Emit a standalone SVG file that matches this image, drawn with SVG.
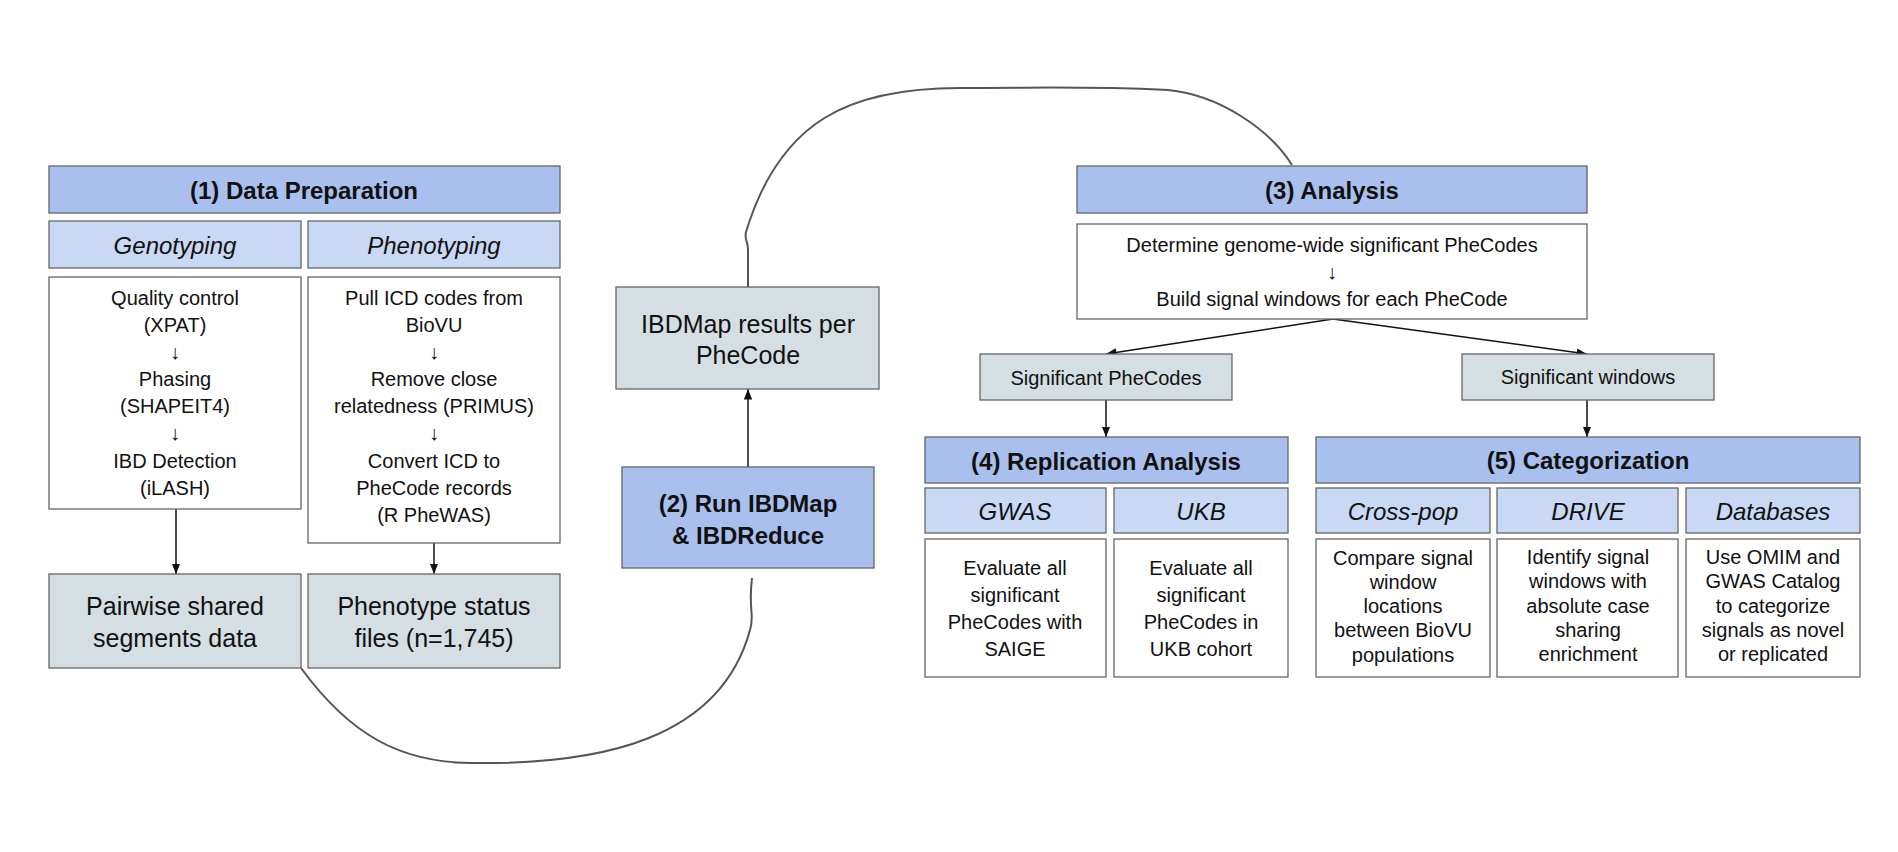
<svg xmlns="http://www.w3.org/2000/svg" width="1898" height="852" viewBox="0 0 1898 852">
<defs>
<marker id="a" viewBox="0 0 10 10" refX="10" refY="5" markerWidth="7" markerHeight="7" orient="auto"><path d="M0,1 L10,5 L0,9 z" fill="#111"/></marker>
<style>
rect{stroke:#666;stroke-width:1.3}
.h{fill:#a9c0ef}.s{fill:#c9d8f5}.w{fill:#fff}.g{fill:#d5dee2}
text{font-family:"Liberation Sans",Arial,sans-serif;fill:#111;text-anchor:middle;dominant-baseline:central}
.ht{font-size:24px;font-weight:bold}
.st{font-size:24px;font-style:italic}
.bt{font-size:20px}
.gt{font-size:25px}
.c{fill:none;stroke:#555;stroke-width:2}
.ar{stroke:#111;stroke-width:1.5;fill:none;marker-end:url(#a)}
</style>
</defs>
<g id="connectors">
<path class="c" d="M301,668 C350,735 400,762 470,763 C600,765 720,740 750,630 C755,615 748,610 752,578"/>
<path class="c" d="M748,287 L748,250 C748,240 744,240 746,232 C780,120 850,88 960,88 C1050,88 1080,86 1168,90 C1220,95 1270,130 1292,165"/>
<path class="ar" d="M176,509 L176,574"/>
<path class="ar" d="M434,543 L434,574"/>
<path class="ar" d="M748,467 L748,389"/>
<path class="ar" d="M1333,319 L1106,354"/>
<path class="ar" d="M1333,319 L1587,354"/>
<path class="ar" d="M1106,400 L1106,437"/>
<path class="ar" d="M1587,400 L1587,437"/>
</g>
<g id="n1"><rect class="h" x="49" y="166" width="511" height="47"/><text class="ht" x="304" y="190">(1) Data Preparation</text></g>
<g id="geno"><rect class="s" x="49" y="221" width="252" height="47"/><text class="st" x="175" y="245">Genotyping</text></g>
<g id="pheno"><rect class="s" x="308" y="221" width="252" height="47"/><text class="st" x="434" y="245">Phenotyping</text></g>
<g id="genobody"><rect class="w" x="49" y="277" width="252" height="232"/>
<text class="bt" x="175" y="298">Quality control</text><text class="bt" x="175" y="325">(XPAT)</text><text class="bt" x="175" y="352">↓</text><text class="bt" x="175" y="379">Phasing</text><text class="bt" x="175" y="406">(SHAPEIT4)</text><text class="bt" x="175" y="433">↓</text><text class="bt" x="175" y="461">IBD Detection</text><text class="bt" x="175" y="488">(iLASH)</text></g>
<g id="phenobody"><rect class="w" x="308" y="277" width="252" height="266"/>
<text class="bt" x="434" y="298">Pull ICD codes from</text><text class="bt" x="434" y="325">BioVU</text><text class="bt" x="434" y="352">↓</text><text class="bt" x="434" y="379">Remove close</text><text class="bt" x="434" y="406">relatedness (PRIMUS)</text><text class="bt" x="434" y="433">↓</text><text class="bt" x="434" y="461">Convert ICD to</text><text class="bt" x="434" y="488">PheCode records</text><text class="bt" x="434" y="515">(R PheWAS)</text></g>
<g id="pairwise"><rect class="g" x="49" y="574" width="252" height="94"/><text class="gt" x="175" y="606">Pairwise shared</text><text class="gt" x="175" y="638">segments data</text></g>
<g id="status"><rect class="g" x="308" y="574" width="252" height="94"/><text class="gt" x="434" y="606">Phenotype status</text><text class="gt" x="434" y="638">files (n=1,745)</text></g>
<g id="results"><rect class="g" x="616" y="287" width="263" height="102"/><text class="gt" x="748" y="324">IBDMap results per</text><text class="gt" x="748" y="355">PheCode</text></g>
<g id="n2"><rect class="h" x="622" y="467" width="252" height="101"/><text class="ht" x="748" y="503">(2) Run IBDMap</text><text class="ht" x="748" y="535">&amp; IBDReduce</text></g>
<g id="n3"><rect class="h" x="1077" y="166" width="510" height="47"/><text class="ht" x="1332" y="190">(3) Analysis</text></g>
<g id="determine"><rect class="w" x="1077" y="224" width="510" height="95"/><text class="bt" x="1332" y="245">Determine genome-wide significant PheCodes</text><text class="bt" x="1332" y="272">↓</text><text class="bt" x="1332" y="299">Build signal windows for each PheCode</text></g>
<g id="sigp"><rect class="g" x="980" y="354" width="252" height="46"/><text class="bt" x="1106" y="378">Significant PheCodes</text></g>
<g id="sigw"><rect class="g" x="1462" y="354" width="252" height="46"/><text class="bt" x="1588" y="377">Significant windows</text></g>
<g id="n4"><rect class="h" x="925" y="437" width="363" height="46"/><text class="ht" x="1106" y="461">(4) Replication Analysis</text></g>
<g id="gwas"><rect class="s" x="925" y="488" width="181" height="45"/><text class="st" x="1015" y="511">GWAS</text></g>
<g id="ukb"><rect class="s" x="1114" y="488" width="174" height="45"/><text class="st" x="1201" y="511">UKB</text></g>
<g id="gwasbody"><rect class="w" x="925" y="539" width="181" height="138"/><text class="bt" x="1015" y="568">Evaluate all</text><text class="bt" x="1015" y="595">significant</text><text class="bt" x="1015" y="622">PheCodes with</text><text class="bt" x="1015" y="649">SAIGE</text></g>
<g id="ukbbody"><rect class="w" x="1114" y="539" width="174" height="138"/><text class="bt" x="1201" y="568">Evaluate all</text><text class="bt" x="1201" y="595">significant</text><text class="bt" x="1201" y="622">PheCodes in</text><text class="bt" x="1201" y="649">UKB cohort</text></g>
<g id="n5"><rect class="h" x="1316" y="437" width="544" height="46"/><text class="ht" x="1588" y="460">(5) Categorization</text></g>
<g id="cross"><rect class="s" x="1316" y="488" width="174" height="45"/><text class="st" x="1403" y="511">Cross-pop</text></g>
<g id="drive"><rect class="s" x="1497" y="488" width="181" height="45"/><text class="st" x="1588" y="511">DRIVE</text></g>
<g id="db"><rect class="s" x="1686" y="488" width="174" height="45"/><text class="st" x="1773" y="511">Databases</text></g>
<g id="crossbody"><rect class="w" x="1316" y="539" width="174" height="138"/><text class="bt" x="1403" y="558">Compare signal</text><text class="bt" x="1403" y="582">window</text><text class="bt" x="1403" y="606">locations</text><text class="bt" x="1403" y="630">between BioVU</text><text class="bt" x="1403" y="655">populations</text></g>
<g id="drivebody"><rect class="w" x="1497" y="539" width="181" height="138"/><text class="bt" x="1588" y="557">Identify signal</text><text class="bt" x="1588" y="581">windows with</text><text class="bt" x="1588" y="606">absolute case</text><text class="bt" x="1588" y="630">sharing</text><text class="bt" x="1588" y="654">enrichment</text></g>
<g id="dbbody"><rect class="w" x="1686" y="539" width="174" height="138"/><text class="bt" x="1773" y="557">Use OMIM and</text><text class="bt" x="1773" y="581">GWAS Catalog</text><text class="bt" x="1773" y="606">to categorize</text><text class="bt" x="1773" y="630">signals as novel</text><text class="bt" x="1773" y="654">or replicated</text></g>
</svg>
